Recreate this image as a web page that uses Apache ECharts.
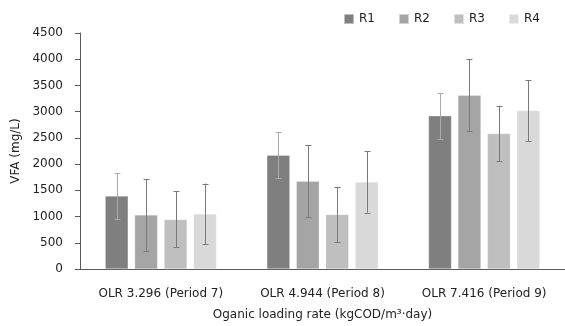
<!DOCTYPE html>
<html><head><meta charset="utf-8">
<script src="https://cdn.jsdelivr.net/npm/echarts@6/dist/echarts.min.js"></script>
<style>html,body{margin:0;padding:0;background:#fff}#c{width:565px;height:326px}</style>
</head><body><div id="c"></div>
<script>
const categories = ['OLR 3.296 (Period 7)', 'OLR 4.944 (Period 8)', 'OLR 7.416 (Period 9)'];
const seriesNames = ['R1', 'R2', 'R3', 'R4'];
const r1 = [1390, 2170, 2920];
const r2 = [1030, 1675, 3315];
const r3 = [945, 1040, 2585];
const r4 = [1050, 1660, 3020];
const r1Err = [435, 435, 440];
const r2Err = [680, 690, 680];
const r3Err = [535, 530, 530];
const r4Err = [580, 585, 580];
const yTicks = [0, 500, 1000, 1500, 2000, 2500, 3000, 3500, 4000, 4500];

const means = [r1, r2, r3, r4];
const errs = [r1Err, r2Err, r3Err, r4Err];
const colors = ['#7f7f7f', '#a5a5a5', '#bfbfbf', '#d9d9d9'];
const errColors = ['#aaaaaa', '#7a7a7a', '#7a7a7a', '#7a7a7a'];
const FONT = 'DejaVu Sans';
const FS = 12;
const BAR_W = 23, GAP = 0.28;

const chart = echarts.init(document.getElementById('c'), null, {renderer: 'canvas'});
const series = [];
seriesNames.forEach((n, i) => {
  series.push({
    name: n, type: 'bar', data: means[i], barWidth: BAR_W, barGap: (GAP * 100) + '%',
    itemStyle: {color: colors[i], borderColor: 'rgba(255,255,255,0.5)', borderWidth: 0.5},
    z: 2
  });
});
seriesNames.forEach((n, i) => {
  series.push({
    type: 'custom', name: n + ' err',
    data: categories.map((c, k) => [k, means[i][k] - errs[i][k], means[i][k] + errs[i][k]]),
    renderItem: function (params, api) {
      const k = api.value(0);
      const lo = api.coord([k, api.value(1)]);
      const hi = api.coord([k, api.value(2)]);
      const off = (i - 1.5) * BAR_W * (1 + GAP);
      const x = Math.round(lo[0] + off) + 0.5;
      const cap = 3;
      const st = {stroke: errColors[i], lineWidth: 1};
      return {type: 'group', children: [
        {type: 'line', shape: {x1: x, y1: hi[1], x2: x, y2: lo[1]}, style: st},
        {type: 'line', shape: {x1: x - cap, y1: Math.round(hi[1]) + 0.5, x2: x + cap, y2: Math.round(hi[1]) + 0.5}, style: st},
        {type: 'line', shape: {x1: x - cap, y1: Math.round(lo[1]) + 0.5, x2: x + cap, y2: Math.round(lo[1]) + 0.5}, style: st}
      ]};
    },
    z: 5, silent: true, tooltip: {show: false}
  });
});

chart.setOption({
  animation: false,
  backgroundColor: '#fff',
  textStyle: {fontFamily: FONT},
  legend: {
    data: seriesNames, left: 338, top: 8, itemWidth: 10, itemHeight: 10, itemGap: 23,
    icon: 'rect', textStyle: {fontFamily: FONT, fontSize: FS, color: '#222'}
  },
  grid: {left: 80, right: 0, top: 33, bottom: 55, containLabel: false},
  xAxis: {
    type: 'category', data: categories,
    name: 'Oganic loading rate (kgCOD/m³·day)', nameLocation: 'middle', nameGap: 40,
    nameTextStyle: {fontFamily: FONT, fontSize: FS, color: '#222'},
    axisLine: {lineStyle: {color: '#595959', width: 1}},
    axisTick: {show: false},
    axisLabel: {interval: 0, fontFamily: FONT, fontSize: FS, color: '#222', margin: 19}
  },
  yAxis: {
    type: 'value', min: yTicks[0], max: yTicks[yTicks.length - 1], interval: 500,
    name: 'VFA (mg/L)', nameLocation: 'middle', nameGap: 45,
    nameTextStyle: {fontFamily: FONT, fontSize: FS, color: '#222'},
    axisLine: {show: true, lineStyle: {color: '#595959', width: 1}},
    axisTick: {show: true, length: 5, lineStyle: {color: '#595959'}},
    splitLine: {show: false},
    axisLabel: {fontFamily: FONT, fontSize: FS, color: '#222', margin: 17, formatter: v => String(v)}
  },
  series: series
});
</script></body></html>
